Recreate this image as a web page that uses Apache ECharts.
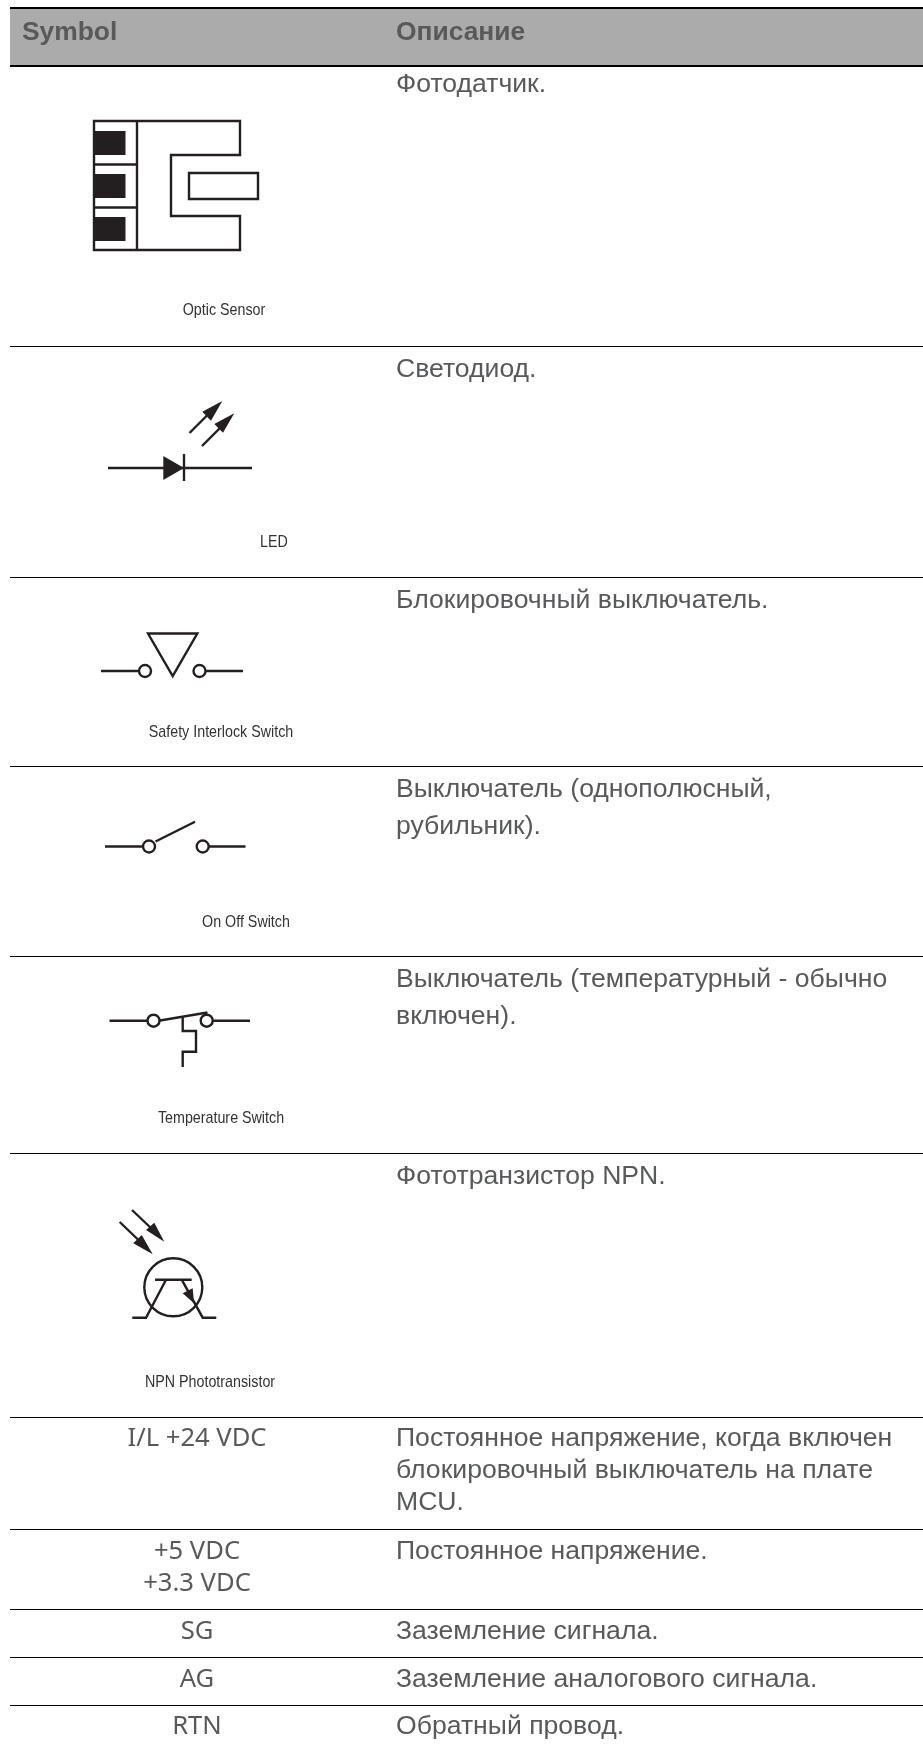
<!DOCTYPE html>
<html><head><meta charset="utf-8">
<script src="https://cdn.jsdelivr.net/npm/echarts@6/dist/echarts.min.js"></script>
<style>html,body{margin:0;padding:0;background:#fff}#c{width:923px;height:1749px}</style></head>
<body><div id="c"></div>
<script>
const headers = ['Symbol', 'Описание'];
const descriptions = [
  ['Фотодатчик.'],
  ['Светодиод.'],
  ['Блокировочный выключатель.'],
  ['Выключатель (однополюсный,', 'рубильник).'],
  ['Выключатель (температурный - обычно', 'включен).'],
  ['Фототранзистор NPN.'],
  ['Постоянное напряжение, когда включен', 'блокировочный выключатель на плате', 'MCU.'],
  ['Постоянное напряжение.'],
  ['Заземление сигнала.'],
  ['Заземление аналогового сигнала.'],
  ['Обратный провод.']
];
const symbolNames = ['Optic Sensor', 'LED', 'Safety Interlock Switch', 'On Off Switch', 'Temperature Switch', 'NPN Phototransistor'];
const symbolTexts = [['I/L +24 VDC'], ['+5 VDC', '+3.3 VDC'], ['SG'], ['AG'], ['RTN']];

const rowLines = [347, 578, 767, 957, 1154, 1418, 1530, 1610, 1658, 1706];
const rowTops = [66, 347, 578, 767, 957, 1154, 1418, 1530, 1610, 1658, 1706];
const rowFirstOffset = [19, 23, 23, 23, 23, 23, 21, 22, 22, 22, 21];
const rowLeading = [0, 0, 0, 37, 37, 0, 32, 32, 32, 32, 32];
const nameCentres = [[224, 315], [274, 547], [221, 737], [246, 927], [221, 1123], [210, 1387]];

const INK = '#231f20', TXT = '#58595b';
const LW = 2.4;
const g = [];
const line = (pts, w) => g.push({type:'polyline', shape:{points:pts}, style:{stroke:INK, lineWidth:w||LW, fill:null, lineJoin:'miter'}});
const poly = pts => g.push({type:'polygon', shape:{points:pts}, style:{fill:INK, stroke:null}});
const rect = (x,y,w,h) => g.push({type:'rect', shape:{x,y,width:w,height:h}, style:{fill:INK}});
const circ = (cx,cy,r) => g.push({type:'circle', shape:{cx,cy,r}, style:{fill:null, stroke:INK, lineWidth:LW}});
const text = (t,x,y,font,color,align,sx) => g.push({type:'text', x, y, scaleX:sx||1, style:{text:t, font, fill:color, align:align||'left', verticalAlign:'middle'}});

// table frame
g.push({type:'rect', shape:{x:10,y:8,width:913,height:58}, style:{fill:'#ababab'}});
g.push({type:'rect', shape:{x:10,y:7,width:913,height:2}, style:{fill:'#000'}});
g.push({type:'rect', shape:{x:10,y:65,width:913,height:2}, style:{fill:'#000'}});
rowLines.forEach(y => g.push({type:'rect', shape:{x:10,y:y-1,width:913,height:1}, style:{fill:'#000'}}));

const HF = 'bold 26.4px "Liberation Sans"', DF = '26.6px "Liberation Sans"', NF = '17px "Liberation Sans"', SF = '25.6px "Noto Sans"';
text(headers[0], 22, 33, HF, '#595959');
text(headers[1], 396, 33, HF, '#595959');
descriptions.forEach((ls,i) => ls.forEach((t,j) => text(t, 396, rowTops[i] + rowFirstOffset[i] + j*rowLeading[i], DF, TXT)));
symbolNames.forEach((t,i) => text(t, nameCentres[i][0], nameCentres[i][1]-5, NF, '#333', 'center', 0.84));
symbolTexts.forEach((ls,i) => ls.forEach((t,j) => text(t, 197, rowTops[6+i] + rowFirstOffset[6+i] + j*rowLeading[6+i], SF, TXT, 'center')));

// Optic sensor
g.push({type:'polygon', shape:{points:[[94,121],[240,121],[240,155],[171,155],[171,216],[240,216],[240,250],[94,250]]}, style:{fill:null,stroke:INK,lineWidth:LW}});
line([[137,121],[137,250]]);
line([[94,164.5],[137,164.5]]);
line([[94,207.5],[137,207.5]]);
g.push({type:'rect', shape:{x:189,y:173,width:69,height:26}, style:{fill:null,stroke:INK,lineWidth:LW}});
rect(94,131,31.5,24); rect(94,174,31.5,24); rect(94,217,31.5,24);

// LED
line([[108,468],[252,468]]);
poly([[163.3,456],[163.3,480],[184,468]]);
line([[184,454],[184,481]]);
line([[189.5,433],[210,412.5]]); poly([[222.3,401],[202.3,411.7],[211,420.7]]);
line([[202,446],[222,426]]); poly([[234.3,413.3],[214.3,424],[223,432.7]]);

// Safety interlock
line([[101,671],[139,671]]); circ(145,671,6);
circ(199.5,671,6); line([[205.5,671],[243,671]]);
g.push({type:'polygon', shape:{points:[[148,633.5],[197.3,633.5],[172.7,676]]}, style:{fill:null,stroke:INK,lineWidth:LW}});

// On/off
line([[105,846.5],[143,846.5]]); circ(149,846.5,6);
circ(202.7,846.5,6); line([[208.7,846.5],[245.5,846.5]]);
line([[155.5,841.5],[195,821.7]]);

// Temperature
line([[109.5,1020.7],[147.5,1020.7]]); circ(153.5,1020.7,6);
circ(206.7,1020.7,6); line([[212.7,1020.7],[250,1020.7]]);
line([[160,1020.5],[207.5,1012.5]]);
line([[182.7,1017],[182.7,1031],[196,1031],[196,1051.7],[182.7,1051.7],[182.7,1067]]);

// NPN phototransistor
circ(173.3,1287.3,29);
line([[155,1279.7],[191.7,1279.7]]);
line([[166,1279.7],[146,1317.7],[132.3,1317.7]]);
line([[181.7,1279.7],[202.7,1317.7],[216.3,1317.7]]);
poly([[194,1303.3],[182.7,1293.3],[192.7,1288.3]]);
line([[132,1210],[152,1229]]); poly([[164.3,1241.7],[146,1230],[154.3,1222.7]]);
line([[119.7,1222],[139.5,1241]]); poly([[152.7,1254.3],[133.3,1243.3],[141.7,1235]]);

const chart = echarts.init(document.getElementById('c'), null, {renderer:'canvas'});
chart.setOption({animation:false, backgroundColor:'#fff', graphic:{elements:g}});
</script></body></html>
